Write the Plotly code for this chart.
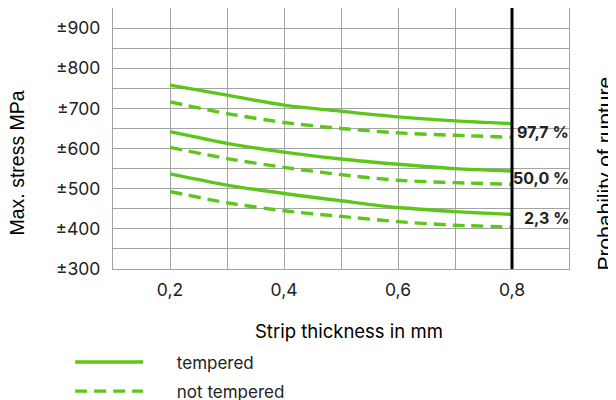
import plotly.graph_objects as go

# ---- data ----
thickness = [0.2, 0.3, 0.4, 0.5, 0.6, 0.7, 0.8]
tempered_977 = [758, 733, 708, 693, 679, 669, 662]
not_tempered_977 = [716, 687, 665, 650, 639, 633, 628]
tempered_500 = [642, 613, 591, 574, 561, 550, 544]
not_tempered_500 = [603, 575, 553, 535, 521, 515, 511]
tempered_23 = [537, 509, 488, 470, 453, 443, 436]
not_tempered_23 = [493, 465, 445, 431, 418, 409, 405]

prob_labels = ["97,7 %", "50,0 %", "2,3 %"]
prob_label_y = [642, 526, 426]

x_tickvals = [0.1, 0.2, 0.3, 0.4, 0.5, 0.6, 0.7, 0.8, 0.9]
x_ticktext = ["", "0,2", "", "0,4", "", "0,6", "", "0,8", ""]
y_tickvals = [300, 350, 400, 450, 500, 550, 600, 650, 700, 750, 800, 850, 900, 950]
y_ticktext = ["±300", "", "±400", "", "±500", "", "±600", "", "±700", "", "±800", "", "±900", ""]

GREEN = "#5cc61a"
FONT = "Inter"
SIDE_FONT = "Liberation Sans"
TXT = "#222222"
PAD = "\u00a0" * 6

fig = go.Figure()

series = [
    (tempered_977, "solid", "tempered", True, "g1"),
    (not_tempered_977, "12px,7px", "not tempered", True, "g2"),
    (tempered_500, "solid", "tempered", False, "g1"),
    (not_tempered_500, "12px,7px", "not tempered", False, "g2"),
    (tempered_23, "solid", "tempered", False, "g1"),
    (not_tempered_23, "12px,7px", "not tempered", False, "g2"),
]
for ys, dash, name, show, grp in series:
    fig.add_trace(go.Scatter(
        x=thickness, y=ys, mode="lines", name=PAD + name, showlegend=show,
        legendgroup=grp,
        line=dict(color=GREEN, width=3.4, dash=dash, shape="spline", smoothing=0.8),
    ))

# black vertical line at 0.8
fig.add_shape(type="line", xref="x", yref="y domain", x0=0.8, x1=0.8, y0=0, y1=1,
              line=dict(color="black", width=3), layer="above")

for txt, yv in zip(prob_labels, prob_label_y):
    fig.add_annotation(x=0.9, y=yv, xref="x", yref="y", text="<b>" + txt + "</b>",
                       showarrow=False, xanchor="right", yanchor="middle", xshift=2,
                       font=dict(family=FONT, size=16, color=TXT))

fig.add_annotation(xref="paper", yref="paper", x=-0.21, y=0.405, text="Max. stress MPa",
                   textangle=-90, showarrow=False, xanchor="center", yanchor="middle",
                   font=dict(family=SIDE_FONT, size=19.5, color="black"))
fig.add_annotation(xref="paper", yref="paper", x=1.077, y=0.366, text="Probability of rupture",
                   textangle=-90, showarrow=False, xanchor="center", yanchor="middle",
                   font=dict(family=SIDE_FONT, size=21, color="black"))
fig.add_annotation(xref="paper", yref="paper", x=0.517, y=-0.2375, text="Strip thickness in mm",
                   showarrow=False, xanchor="center", yanchor="middle",
                   font=dict(family=FONT, size=18.5, color="black"))

grid = dict(showgrid=True, gridcolor="#a3a3a3", gridwidth=1.2, showline=True,
            linecolor="#a3a3a3", linewidth=1.2, mirror=True, zeroline=False,
            ticks="", tickfont=dict(family=FONT, size=17.5, color=TXT))

fig.update_xaxes(range=[0.1, 0.9], tickmode="array", tickvals=x_tickvals,
                 ticktext=x_ticktext, ticklabelstandoff=5, **grid)
fig.update_yaxes(range=[300, 950], tickmode="array", tickvals=y_tickvals,
                 ticktext=y_ticktext, ticklabelstandoff=8, **grid)

# page body adds an 8px offset, so margins are reduced by 8px on left/top
fig.update_layout(
    width=616, height=400,
    margin=dict(l=105, r=55, t=0, b=139, autoexpand=False),
    paper_bgcolor="white", plot_bgcolor="white",
    font=dict(family=FONT, size=17, color=TXT),
    showlegend=True,
    legend=dict(x=-0.094, y=-0.289, xanchor="left", yanchor="top",
                orientation="v", itemwidth=68, tracegroupgap=4,
                font=dict(family=FONT, size=17, color=TXT)),
)

fig.write_html("out.html")
